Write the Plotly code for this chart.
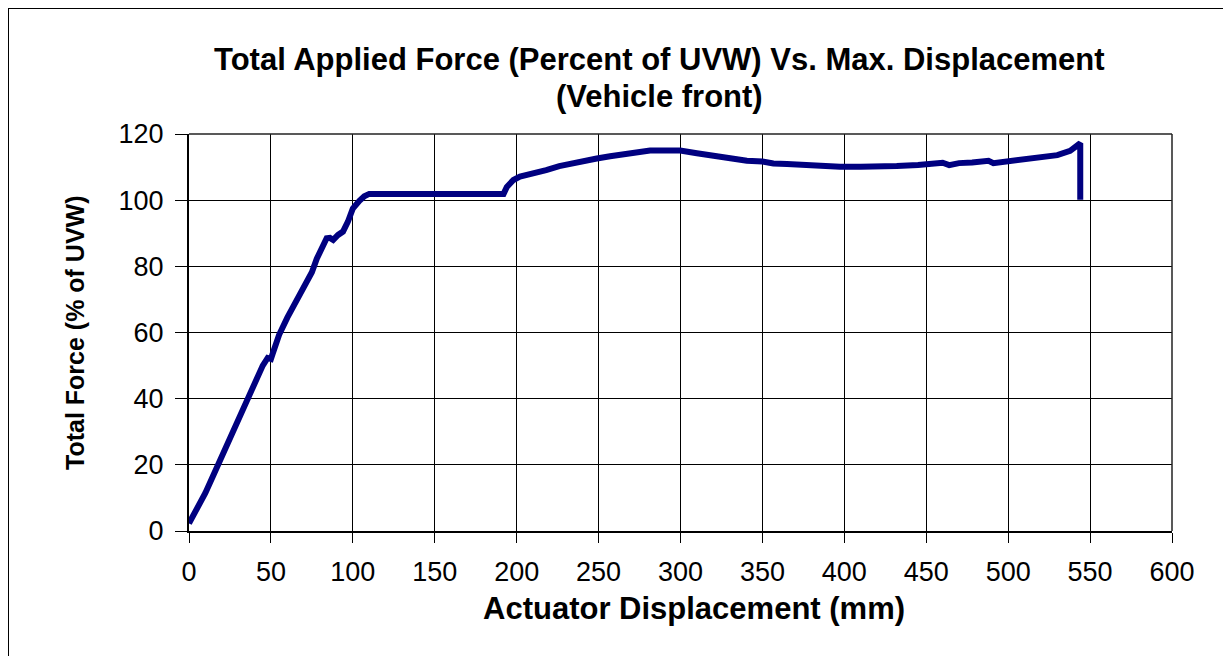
import plotly.graph_objects as go

displacement_mm = [0, 5, 10, 15, 20, 25, 30, 35, 40, 45, 48, 50, 51, 55, 60, 65, 70, 75, 78, 81, 84, 86, 88, 91, 94, 97, 100, 104, 107, 110,
                   115, 120, 125, 130, 135, 140, 150, 160, 170, 180, 192,
                   194, 198, 202, 207, 212, 218, 226, 234.6, 242, 248.9, 257, 265, 273, 281.4, 290, 299.8, 310, 320, 330, 340.5, 350, 356.7, 365, 373,
                   385, 397.4, 410, 421.8, 432, 445, 456.5, 460, 464, 470, 478, 485, 488, 491, 500, 513.4, 523.6, 530, 537.8, 544, 544]
force_pct = [2.3, 6.5, 11.5, 17.0, 22.5, 28.5, 34.5, 40.0, 45.3, 50.0, 52.3, 52.0, 53.5, 59.3, 64.5, 68.8, 73.2, 78.2, 82.3, 86.0, 88.5, 88.6, 88.0, 89.5, 90.5, 93.5, 97.5, 99.8, 101.2, 101.9,
             101.9, 101.9, 101.5, 101.8, 101.7, 101.6, 101.8, 101.9, 101.9, 101.9, 101.9,
             104, 106.1, 107.1, 107.6, 108.3, 109.1, 110.3, 111.3, 112.0, 112.6, 113.3, 113.9, 114.5, 115, 115, 115, 114.2, 113.5, 112.8, 111.9, 111.7, 111.1, 110.9, 110.6,
             110.4, 110.1, 110.1, 110.1, 110.3, 110.6, 111.3, 111.3, 110.6, 111.2, 111.4, 111.9, 111.9, 111.2, 111.7, 112.4, 113, 113.6, 114.9, 117.2, 100.1]

x_ticks = [0, 50, 100, 150, 200, 250, 300, 350, 400, 450, 500, 550, 600]
y_ticks = [0, 20, 40, 60, 80, 100, 120]

title_line1 = "Total Applied Force (Percent of UVW) Vs. Max. Displacement"
title_line2 = "(Vehicle front)"
x_title = "Actuator Displacement (mm)"
y_title = "Total Force (% of UVW)"

FONT = "Liberation Sans, Arial, sans-serif"

fig = go.Figure()
fig.add_trace(go.Scatter(
    x=displacement_mm, y=force_pct, mode="lines",
    line=dict(color="#000080", width=6, shape="linear"),
    showlegend=False, hoverinfo="x+y",
))

W, H = 1231, 656
# the page body adds an 8px offset, so figure coords = screen coords - 8
L, T = 181, 126
R = W - 1164
B = H - 523
pw = W - L - R
ph = H - T - B


def px_x(fx):
    return (fx - L) / pw


def px_y(fy):
    return (H - B - fy) / ph


fig.update_layout(
    width=W, height=H,
    margin=dict(l=L, r=R, t=T, b=B, pad=0),
    paper_bgcolor="white", plot_bgcolor="white",
    font=dict(family=FONT, color="black", size=24),
    xaxis=dict(
        range=[0, 600], tickvals=x_ticks, ticktext=[str(v) for v in x_ticks],
        showgrid=True, gridcolor="black", gridwidth=1,
        showline=True, linecolor="black", linewidth=2, mirror=False,
        ticks="outside", ticklen=10, tickcolor="black", tickwidth=1,
        ticklabelstandoff=6,
        tickfont=dict(family=FONT, size=27, color="black"),
        zeroline=False, fixedrange=True,
    ),
    yaxis=dict(
        range=[0, 120], tickvals=y_ticks, ticktext=[str(v) for v in y_ticks],
        showgrid=True, gridcolor="black", gridwidth=1,
        showline=True, linecolor="black", linewidth=2, mirror=False,
        ticks="outside", ticklen=12, tickcolor="black", tickwidth=1,
        ticklabelstandoff=6,
        tickfont=dict(family=FONT, size=27, color="black"),
        zeroline=False, fixedrange=True,
    ),
    annotations=[
        dict(text="<b>" + title_line1 + "</b>", xref="paper", yref="paper",
             x=px_x(651), y=px_y(52), xanchor="center", yanchor="middle", showarrow=False,
             font=dict(family=FONT, size=31, color="black")),
        dict(text="<b>" + title_line2 + "</b>", xref="paper", yref="paper",
             x=px_x(651), y=px_y(89), xanchor="center", yanchor="middle", showarrow=False,
             font=dict(family=FONT, size=31, color="black")),
        dict(text="<b>" + x_title + "</b>", xref="paper", yref="paper",
             x=px_x(686), y=px_y(600), xanchor="center", yanchor="middle", showarrow=False,
             font=dict(family=FONT, size=31, color="black")),
        dict(text="<b>" + y_title + "</b>", xref="paper", yref="paper",
             x=px_x(67), y=px_y(325), xanchor="center", yanchor="middle", showarrow=False,
             textangle=-90, font=dict(family=FONT, size=25, color="black")),
    ],
    shapes=[
        # plot area frame (top and right edges)
        dict(type="line", xref="paper", yref="paper", x0=0, x1=1, y0=1, y1=1, line=dict(color="#222222", width=1.5)),
        dict(type="line", xref="paper", yref="paper", x0=1, x1=1, y0=0, y1=1, line=dict(color="#222222", width=1.5)),
        # outer chart border (left and top visible)
        dict(type="line", xref="paper", yref="paper",
             x0=px_x(0), x1=px_x(0), y0=px_y(0), y1=px_y(700),
             line=dict(color="black", width=2)),
        dict(type="line", xref="paper", yref="paper",
             x0=px_x(0), x1=px_x(1300), y0=px_y(0), y1=px_y(0),
             line=dict(color="black", width=2)),
    ],
)

fig.write_html("out.html")
